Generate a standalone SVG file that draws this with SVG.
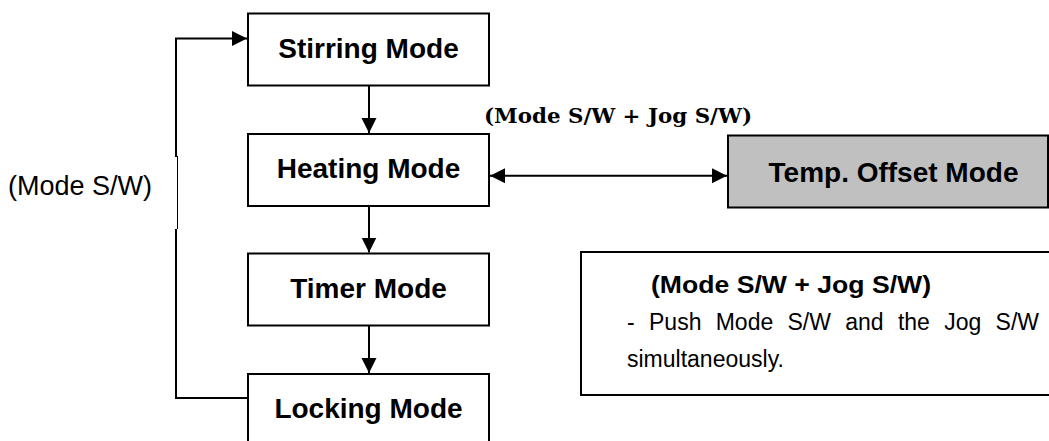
<svg xmlns="http://www.w3.org/2000/svg" width="1049" height="441" viewBox="0 0 1049 441">
<style>
.box{fill:#fff;stroke:#000;stroke-width:2}
.gray{fill:#c0c0c0;stroke:#000;stroke-width:2}
.nt{font-family:"Liberation Sans",Arial,sans-serif;font-weight:bold;font-size:28px;fill:#000;text-anchor:middle}
.ln{fill:none;stroke:#000;stroke-width:2}
.lbl{font-family:"Liberation Sans",Arial,sans-serif;font-size:27px;fill:#000}
.ser{font-family:"DejaVu Serif","Liberation Serif",serif;font-weight:bold;font-size:20.5px;fill:#000}
.note{font-family:"Liberation Sans",Arial,sans-serif;font-size:23px;fill:#000}
</style>
<defs>
<marker id="ah" markerUnits="userSpaceOnUse" markerWidth="16" markerHeight="16" viewBox="0 0 16 16" refX="15" refY="7.5" orient="auto-start-reverse">
<path d="M0,0 L15,7.5 L0,15 z" fill="#000"/>
</marker>
</defs>
<rect width="1049" height="441" fill="#fff"/>
<g id="connectors">
<line class="ln" x1="369" y1="86" x2="369" y2="133" marker-end="url(#ah)"/>
<line class="ln" x1="369" y1="206" x2="369" y2="252.5" marker-end="url(#ah)"/>
<line class="ln" x1="369" y1="326" x2="369" y2="373" marker-end="url(#ah)"/>
<line class="ln" x1="490" y1="175.7" x2="727" y2="175.7" marker-start="url(#ah)" marker-end="url(#ah)"/>
<polyline class="ln" points="248,398 176,398 176,229"/>
<line stroke="#000" stroke-width="1" x1="177.5" y1="229" x2="177.5" y2="156"/>
<polyline class="ln" points="176,157 176,38.5 247,38.5" marker-end="url(#ah)"/>
</g>
<g id="stirring"><rect class="box" x="248" y="13.5" width="241" height="72"/><text class="nt" x="368.5" y="58">Stirring Mode</text></g>
<g id="heating"><rect class="box" x="248" y="134" width="241" height="72"/><text class="nt" x="368.5" y="177.7">Heating Mode</text></g>
<g id="timer"><rect class="box" x="248" y="253.5" width="241" height="72"/><text class="nt" x="368.5" y="298.3">Timer Mode</text></g>
<g id="locking"><rect class="box" x="248" y="374" width="241" height="90"/><text class="nt" x="368.5" y="418.3">Locking Mode</text></g>
<g id="tempoffset"><rect class="gray" x="728" y="135.5" width="320" height="72"/><text class="nt" x="893.5" y="181.7">Temp. Offset Mode</text></g>
<g id="labels">
<text class="lbl" x="8" y="195">(Mode S/W)</text>
<text class="ser" x="484" y="122.7" textLength="268" lengthAdjust="spacingAndGlyphs">(Mode S/W + Jog S/W)</text>
</g>
<g id="note">
<rect class="box" x="581" y="252" width="480" height="143"/>
<text class="note" x="651" y="293.3" font-weight="bold" textLength="280" lengthAdjust="spacingAndGlyphs">(Mode S/W + Jog S/W)</text>
<text class="note" y="330"><tspan x="627">-</tspan><tspan x="649">Push</tspan><tspan x="715.7">Mode</tspan><tspan x="787.5">S/W</tspan><tspan x="845.2">and</tspan><tspan x="897.9">the</tspan><tspan x="944.2">Jog</tspan><tspan x="995.6">S/W</tspan></text>
<text class="note" x="627" y="366.5">simultaneously.</text>
</g>
</svg>
